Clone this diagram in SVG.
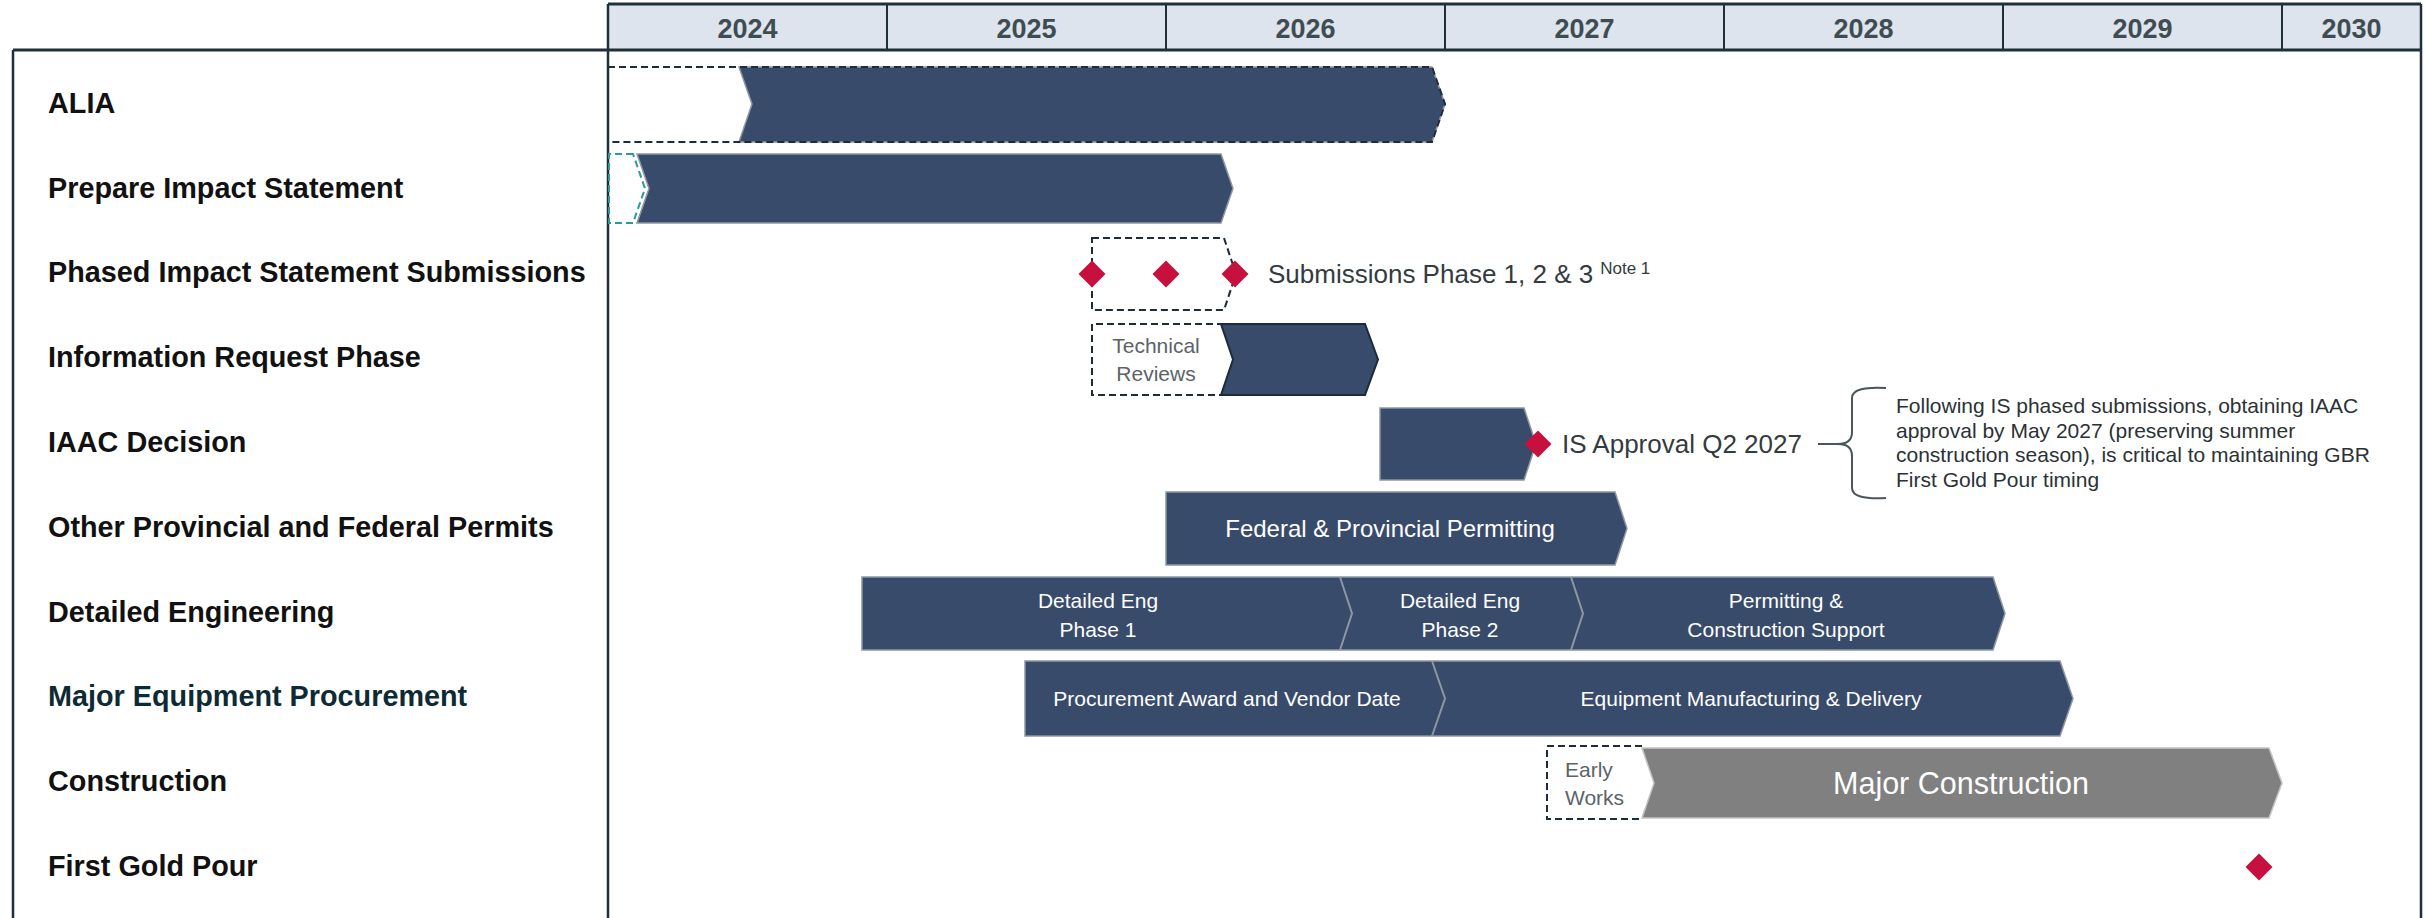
<svg xmlns="http://www.w3.org/2000/svg" width="2425" height="918" viewBox="0 0 2425 918">
<style>
.lbl{font-family:"Liberation Sans",Arial,sans-serif;font-weight:bold;font-size:28.8px;fill:#111111}
.yr{font-family:"Liberation Sans",Arial,sans-serif;font-weight:bold;font-size:27px;fill:#3f4d52;text-anchor:middle}
.bar{fill:#384b6b;stroke:#8d97a3;stroke-width:1.5}
.gbar{fill:#808080;stroke:#c4c4c4;stroke-width:1.5}
.dash{fill:none;stroke:#1e2b38;stroke-width:2;stroke-dasharray:7 4}
.tdash{fill:none;stroke:#2a9a9a;stroke-width:2;stroke-dasharray:7 4}
.sep{fill:none;stroke:#8d97a3;stroke-width:2}
.ms{fill:#c8103e}
.wt{font-family:"Liberation Sans",Arial,sans-serif;font-size:21px;fill:#ffffff;text-anchor:middle}
.wt-l{font-size:24px}
.wt-xl{font-size:30.5px}
.gt{font-family:"Liberation Sans",Arial,sans-serif;font-size:21px;fill:#5a6468}
.dt{font-family:"Liberation Sans",Arial,sans-serif;font-size:26px;fill:#333b40}
.pt{font-family:"Liberation Sans",Arial,sans-serif;font-size:21px;fill:#2a3236}
.frame{stroke:#1f3038;stroke-width:2.5;fill:none}
</style>
<defs>
<path id="dia" d="M0,-13.5 L13.5,0 L0,13.5 L-13.5,0 Z"/>
</defs>
<rect x="0" y="0" width="2425" height="918" fill="#ffffff"/>

<g id="header">
<rect x="608" y="4" width="1813" height="46" fill="#dee4ee"/>
<g class="frame">
<line x1="608" y1="4" x2="2421" y2="4" stroke-width="3"/>
<line x1="887" y1="4" x2="887" y2="50" stroke-width="2"/>
<line x1="1166" y1="4" x2="1166" y2="50" stroke-width="2"/>
<line x1="1445" y1="4" x2="1445" y2="50" stroke-width="2"/>
<line x1="1724" y1="4" x2="1724" y2="50" stroke-width="2"/>
<line x1="2003" y1="4" x2="2003" y2="50" stroke-width="2"/>
<line x1="2282" y1="4" x2="2282" y2="50" stroke-width="2"/>
</g>
<text class="yr" x="747.5" y="37.5">2024</text>
<text class="yr" x="1026.5" y="37.5">2025</text>
<text class="yr" x="1305.5" y="37.5">2026</text>
<text class="yr" x="1584.5" y="37.5">2027</text>
<text class="yr" x="1863.5" y="37.5">2028</text>
<text class="yr" x="2142.5" y="37.5">2029</text>
<text class="yr" x="2351.5" y="37.5">2030</text>
</g>

<g id="frame" class="frame">
<line x1="13" y1="50" x2="2421" y2="50" stroke-width="3"/>
<line x1="13" y1="50" x2="13" y2="918"/>
<line x1="608" y1="4" x2="608" y2="918"/>
<line x1="2421" y1="4" x2="2421" y2="918"/>
</g>

<g id="row-alia">
<text class="lbl" x="48" y="113">ALIA</text>
<path class="bar" stroke="none" d="M739,67 H1432 L1445,104 L1432,142 H739 L752,104 Z"/>
<path class="dash" d="M608,67 H1432 L1445,104 L1432,142 H608"/>
</g>

<g id="row-prepare">
<text class="lbl" x="48" y="197.5">Prepare Impact Statement</text>
<path class="tdash" d="M633,154 H609 V223 H633 L645,188.5 Z"/>
<path class="bar" d="M637,154 H1221 L1233,188.5 L1221,223 H637 L649,188.5 Z"/>
</g>

<g id="row-phased">
<text class="lbl" x="48" y="282">Phased Impact Statement Submissions</text>
<path class="dash" d="M1092,238 H1224 L1236,274 L1224,310 H1092 Z"/>
<use href="#dia" class="ms" x="1092" y="274"/>
<use href="#dia" class="ms" x="1166" y="274"/>
<use href="#dia" class="ms" x="1235" y="274"/>
<text class="dt" x="1268" y="283">Submissions Phase 1, 2 &amp; 3<tspan style="font-size:17px" dx="7" dy="-9">Note 1</tspan></text>
</g>

<g id="row-info">
<text class="lbl" x="48" y="367">Information Request Phase</text>
<path class="dash" d="M1224,324 H1092 V395 H1224"/>
<path class="bar" style="stroke:#1c2a3a;stroke-width:2" d="M1221,324 H1365 L1378,359.5 L1365,395 H1221 L1233,359.5 Z"/>
<text class="gt" x="1156" y="353" text-anchor="middle">Technical</text>
<text class="gt" x="1156" y="381" text-anchor="middle">Reviews</text>
</g>

<g id="row-iaac">
<text class="lbl" x="48" y="451.5">IAAC Decision</text>
<path class="bar" d="M1380,408 H1524 L1536,444 L1524,480 H1380 Z"/>
<use href="#dia" class="ms" x="1538" y="444"/>
<text class="dt" x="1562" y="453">IS Approval Q2 2027</text>
<text class="pt" x="1896" y="413">Following IS phased submissions, obtaining IAAC</text>
<text class="pt" x="1896" y="437.5">approval by May 2027 (preserving summer</text>
<text class="pt" x="1896" y="462">construction season), is critical to maintaining GBR</text>
<text class="pt" x="1896" y="486.5">First Gold Pour timing</text>
</g>

<g id="row-permits">
<text class="lbl" x="48" y="536.5">Other Provincial and Federal Permits</text>
<path class="bar" d="M1166,492 H1615 L1627,528.5 L1615,565 H1166 Z"/>
<text class="wt wt-l" x="1390" y="537">Federal &amp; Provincial Permitting</text>
</g>

<g id="row-engineering">
<text class="lbl" x="48" y="621.5">Detailed Engineering</text>
<path class="bar" d="M862,577 H1993 L2005,613.5 L1993,650 H862 Z"/>
<path class="sep" d="M1340,577 L1352,613.5 L1340,650"/>
<path class="sep" d="M1571,577 L1583,613.5 L1571,650"/>
<text class="wt" x="1098" y="608">Detailed Eng</text>
<text class="wt" x="1098" y="636.5">Phase 1</text>
<text class="wt" x="1460" y="608">Detailed Eng</text>
<text class="wt" x="1460" y="636.5">Phase 2</text>
<text class="wt" x="1786" y="608">Permitting &amp;</text>
<text class="wt" x="1786" y="636.5">Construction Support</text>
</g>

<g id="row-procurement">
<text class="lbl" x="48" y="706" style="fill:#0e2a35">Major Equipment Procurement</text>
<path class="bar" d="M1025,661 H2060 L2073,698.5 L2060,736 H1025 Z"/>
<path class="sep" d="M1432,661 L1445,698.5 L1432,736"/>
<text class="wt" x="1227" y="706">Procurement Award and Vendor Date</text>
<text class="wt" x="1751" y="706">Equipment Manufacturing &amp; Delivery</text>
</g>

<g id="row-construction">
<text class="lbl" x="48" y="790.5">Construction</text>
<path class="dash" d="M1642,746 H1547 V819 H1642"/>
<text class="gt" x="1565" y="777">Early</text>
<text class="gt" x="1565" y="805">Works</text>
<path class="gbar" d="M1642,748 H2269 L2282,783 L2269,818 H1642 L1654,783 Z"/>
<text class="wt wt-xl" x="1961" y="794">Major Construction</text>
</g>

<g id="row-firstgold">
<text class="lbl" x="48" y="875.5">First Gold Pour</text>
<use href="#dia" class="ms" x="2259" y="867"/>
</g>

<g id="connectors">
<path d="M1818,444 H1838 M1886,388 Q1852,386 1852,398 V432 Q1852,444 1838,444 Q1852,444 1852,456 V488 Q1852,500 1886,498" fill="none" stroke="#4a555a" stroke-width="2"/>
</g>
</svg>
